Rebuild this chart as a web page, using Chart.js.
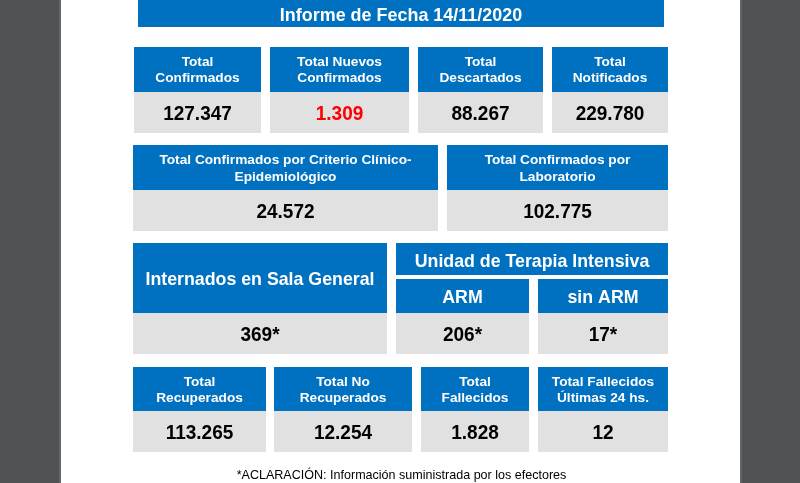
<!DOCTYPE html>
<html lang="es">
<head>
<meta charset="utf-8">
<title>Informe de Fecha 14/11/2020</title>
<script src="https://cdn.jsdelivr.net/npm/chart.js@4.4.1/dist/chart.umd.min.js"></script>
<style>
    html, body { margin: 0; padding: 0; background: #4f5356; overflow: hidden; }
    #wrap { width: 800px; height: 483px; }
</style>
</head>
<body>
<div id="wrap"><canvas id="informe" width="800" height="483"></canvas></div>
<script>
// datos del informe
const reportTitle = "Informe de Fecha 14/11/2020";
const footNote = "*ACLARACIÓN: Información suministrada por los efectores";

const totalesLabels = [["Total", "Confirmados"], ["Total Nuevos", "Confirmados"], ["Total", "Descartados"], ["Total", "Notificados"]];
const totalesValues = [127347, 1309, 88267, 229780];

const criterioLabels = [["Total Confirmados por Criterio Clínico-", "Epidemiológico"], ["Total Confirmados por", "Laboratorio"]];
const criterioValues = [24572, 102775];

const utiLabel = "Unidad de Terapia Intensiva";
const internacionLabels = [["Internados en Sala General"], ["ARM"], ["sin ARM"]];
const internacionValues = [369, 206, 17];

const evolucionLabels = [["Total", "Recuperados"], ["Total No", "Recuperados"], ["Total", "Fallecidos"], ["Total Fallecidos", "Últimas 24 hs."]];
const evolucionValues = [113265, 12254, 1828, 12];

// disposición (en unidades de los ejes 0-800 / 0-483)
const BLUE = "#0070c0";
const GREY = "#e1e1e1";
const FONT = '"Liberation Sans", Arial, sans-serif';

const rows = [
    { labels: totalesLabels, values: totalesValues, cols: [[134, 261], [270, 409], [418, 543], [552, 668]],
      head: [47, 92], body: [92, 133], size: 13.7, sx: 1, line: 16, red: [1] },
    { labels: criterioLabels, values: criterioValues, cols: [[133, 438], [447, 668]],
      head: [145, 190], body: [190, 231], size: 13.7, sx: 1, line: 17 },
    { labels: internacionLabels, values: internacionValues, cols: [[133, 387], [396, 529], [538, 668]],
      head: [243, 313], heads: [243, 279, 279], body: [313, 354], size: 18.5, sx: 0.96, line: 18, suffix: "*" },
    { labels: evolucionLabels, values: evolucionValues, cols: [[133, 266], [274, 412], [421, 529], [538, 668]],
      head: [367, 411], body: [411, 452], size: 13.7, sx: 1, line: 16 },
];

function formatNumber(n) {
    return String(n).replace(/\B(?=(\d{3})+(?!\d))/g, ".");
}

// texto centrado; sx comprime en horizontal como la tipografía original
function drawText(ctx, text, cx, cy, size, weight, color, sx) {
    ctx.save();
    ctx.font = `${weight} ${size}px ${FONT}`;
    ctx.fillStyle = color;
    ctx.textAlign = "center";
    ctx.textBaseline = "alphabetic";
    ctx.translate(cx, cy + size * 0.358);
    ctx.scale(sx || 1, 1);
    ctx.fillText(text, 0, 0);
    ctx.restore();
}

const tilesPlugin = {
    id: "tiles",
    beforeDraw(chart) {
        const ctx = chart.ctx;
        const sx = chart.scales.x;
        const sy = chart.scales.y;
        const px = (v) => sx.getPixelForValue(v);
        const py = (v) => sy.getPixelForValue(v);
        const rect = (x0, x1, y0, y1, color) => {
            ctx.fillStyle = color;
            ctx.fillRect(px(x0), py(y0), px(x1) - px(x0), py(y1) - py(y0));
        };

        ctx.save();
        // fondo
        rect(0, 800, 0, 483, "#4f5356");
        rect(59, 61, 0, 483, "#63676a");
        rect(61, 740, 0, 483, "#ffffff");
        rect(740, 742, 0, 483, "#63676a");

        // título
        rect(138, 664, 0, 27, BLUE);
        drawText(ctx, reportTitle, px(401), py(14), 18.5, "bold", "#ffffff", 0.97);

        rows.forEach((row) => {
            row.cols.forEach((c, i) => {
                const top = row.heads ? row.heads[i] : row.head[0];
                rect(c[0], c[1], top, row.head[1], BLUE);
                rect(c[0], c[1], row.body[0], row.body[1], GREY);

                const cx = px((c[0] + c[1]) / 2);
                const lines = row.labels[i];
                const hc = (top + row.head[1]) / 2;
                lines.forEach((t, k) => {
                    const ly = hc + (k - (lines.length - 1) / 2) * row.line;
                    drawText(ctx, t, cx, py(ly), row.size, "bold", "#ffffff", row.sx);
                });

                const val = formatNumber(row.values[i]) + (row.suffix || "");
                const color = row.red && row.red.includes(i) ? "#ff0000" : "#000000";
                drawText(ctx, val, cx, py((row.body[0] + row.body[1]) / 2), 21, "bold", color, 0.905);
            });
        });

        // barra UTI
        rect(396, 668, 243, 275, BLUE);
        drawText(ctx, utiLabel, px(532), py(260), 18.5, "bold", "#ffffff", 0.96);

        // aclaración
        drawText(ctx, footNote, px(401.5), py(474), 12.8, "normal", "#000000", 0.98);
        ctx.restore();
    },
};

document.addEventListener("DOMContentLoaded", function () {
    const ctx = document.getElementById("informe");
    new Chart(ctx, {
        type: "scatter",
        data: { datasets: [{ data: [] }] },
        options: {
            responsive: false,
            animation: false,
            layout: { padding: 0 },
            plugins: { legend: { display: false }, tooltip: { enabled: false } },
            scales: {
                x: { type: "linear", min: 0, max: 800, display: false },
                y: { type: "linear", min: 0, max: 483, reverse: true, display: false },
            },
        },
        plugins: [tilesPlugin],
    });
});
</script>
</body>
</html>
